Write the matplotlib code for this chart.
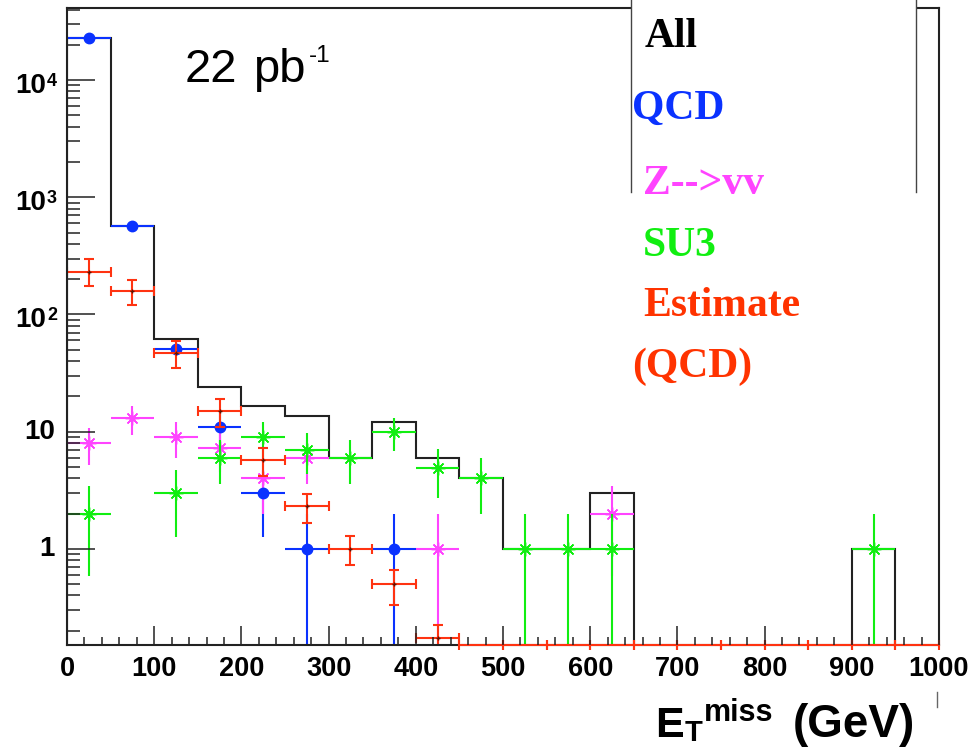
import numpy as np
import matplotlib
matplotlib.use("Agg")
import matplotlib.pyplot as plt
from matplotlib.ticker import LogLocator, MultipleLocator, NullFormatter
from matplotlib.lines import Line2D
from matplotlib.patches import Rectangle
from matplotlib.transforms import blended_transform_factory, ScaledTranslation

plt.rcParams['font.family'] = ['Liberation Sans', 'DejaVu Sans']

# ---------------- data ----------------
bin_edges = list(range(0, 1001, 50))
all_counts = [23000, 570, 62, 24, 16.4, 13.7, 6, 12.2, 6, 4,
              1, 1, 3, 0, 0, 0, 0, 0, 1, 0]

qcd_x = [25, 75, 125, 175, 225, 275, 375]
qcd_y = [23000, 570, 51, 11, 3, 1, 1]
qcd_err = [152, 24, 7.1, 3.3, 1.73, 1, 1]

zvv_x = [25, 75, 125, 175, 225, 275, 425, 625]
zvv_y = [8, 13, 9, 7.2, 4, 6, 1, 2]
zvv_err = [2.8, 3.6, 3, 2.7, 2, 2.45, 1, 1.41]

su3_x = [25, 125, 175, 225, 275, 325, 375, 425, 475, 525, 575, 625, 925]
su3_y = [2, 3, 6, 9, 7, 6, 10, 4.9, 4, 1, 1, 1, 1]
su3_err = [1.41, 1.73, 2.45, 3, 2.65, 2.45, 3.16, 2.2, 2, 1, 1, 1, 1]

est_x = [25, 75, 125, 175, 225, 275, 325, 375, 425]
est_y = [230, 160, 47, 15, 5.7, 2.3, 1.0, 0.5, 0.174]
est_err_up = [70, 38, 12, 4, 1.5, 0.65, 0.29, 0.16, 0.05]
est_err_dn = [56, 40, 12, 4, 1.55, 0.63, 0.27, 0.17, 0.174]
est_zero_x = [475, 525, 575, 625, 675, 725, 775, 825, 875, 925, 975]

x_ticks = [0, 100, 200, 300, 400, 500, 600, 700, 800, 900, 1000]
y_ticks = [1, 10, 100, 1000, 10000]
y_tick_base = ["1", "10", "10", "10", "10"]
y_tick_exp = ["", "", "2", "3", "4"]

# ---------------- style ----------------
C_ALL = '#222222'
C_QCD = '#0a32ff'
C_ZVV = '#ff44ff'
C_SU3 = '#11ee11'
C_EST = '#ff3311'
YMIN, YMAX = 0.1512, 41200
FLOOR = 1e-3
W, H = 979, 749

fig = plt.figure(figsize=(9.79, 7.49), dpi=100)
ax = fig.add_axes([67/W, 1-645/H, 872/W, 637/H])
ax.set_yscale('log')
ax.set_xlim(0, 1000)
ax.set_ylim(YMIN, YMAX)

# All histogram
vals = [v if v > 0 else FLOOR for v in all_counts]
ax.stairs(vals, bin_edges, baseline=FLOOR, color=C_ALL, lw=1.5, zorder=1.5)


def errpoints(x, y, dn, up, color, **kw):
    y = np.asarray(y, float)
    lo = np.maximum(y - np.asarray(dn, float), FLOOR)
    ax.errorbar(x, y, xerr=25, yerr=[y - lo, np.asarray(up, float)],
                color=color, ecolor=color, elinewidth=1.5, **kw)


errpoints(qcd_x, qcd_y, qcd_err, qcd_err, C_QCD, fmt='o', ms=7.5, zorder=2)
errpoints(zvv_x, zvv_y, zvv_err, zvv_err, C_ZVV, fmt='none', zorder=2.05)
ax.plot(zvv_x, zvv_y, ls='none', marker=(8, 2, 0), ms=10, mew=1.0, color=C_ZVV, zorder=2.05)
ax.plot(zvv_x, zvv_y, ls='none', marker='o', ms=3.5, color=C_ZVV, zorder=2.05)
errpoints(su3_x, su3_y, su3_err, su3_err, C_SU3, fmt='none', zorder=2.1)
ax.plot(su3_x, su3_y, ls='none', marker=(8, 2, 0), ms=10, mew=1.0, color=C_SU3, zorder=2.1)
ax.plot(su3_x, su3_y, ls='none', marker='o', ms=3.5, color=C_SU3, zorder=2.1)
errpoints(est_x, est_y, est_err_dn, est_err_up, C_EST, fmt='none', capsize=3.5,
          capthick=1.5, zorder=2.2)
ax.plot(est_x, est_y, ls='none', marker='+', ms=3, color='#661100', zorder=2.2)
ax.errorbar(est_zero_x, [YMIN]*len(est_zero_x), xerr=25, fmt='none', ecolor=C_EST,
            elinewidth=1.5, capsize=3.5, capthick=1.5, clip_on=False, zorder=2.4)

# axes styling
for s in ax.spines.values():
    s.set_linewidth(1.5)
    s.set_color('#222222')
    s.set_zorder(2.3)
ax.set_axisbelow(False)
ax.set_xticks(x_ticks)
ax.set_xticklabels([str(t) for t in x_ticks], fontsize=19.5, fontweight='bold')
ax.xaxis.set_minor_locator(MultipleLocator(20))
ax.set_yticks(y_ticks)
ax.set_yticklabels([""] * len(y_ticks))
ax.yaxis.set_minor_locator(LogLocator(base=10, subs=np.arange(2, 10)))
ax.yaxis.set_minor_formatter(NullFormatter())
ax.tick_params(axis='x', which='major', direction='in', length=13.7, width=1.1, pad=8,
               colors='#222222', labelcolor='black')
ax.tick_params(axis='x', which='minor', direction='in', length=5.8, width=1.1, colors='#222222')
ax.tick_params(axis='y', which='major', direction='in', length=20, width=1.1, pad=8,
               colors='#222222', labelcolor='black')
ax.tick_params(axis='y', which='minor', direction='in', length=9.4, width=1.1, colors='#222222')

# y tick labels (ROOT style 10^n)
ytrans = blended_transform_factory(fig.transFigure, ax.transData)
for val, base, exp in zip(y_ticks, y_tick_base, y_tick_exp):
    if exp == "":
        ax.text(55/W, val, base, transform=ytrans, ha='right', va='center',
                fontsize=20, fontweight='bold', color='black', clip_on=False)
    else:
        down = ytrans + ScaledTranslation(0, -6/100, fig.dpi_scale_trans)
        up = ytrans + ScaledTranslation(0, 7/100, fig.dpi_scale_trans)
        ax.text(46/W, val, base, transform=down, ha='right', va='center',
                fontsize=20, fontweight='bold', color='black', clip_on=False)
        ax.text(47/W, val, exp, transform=up, ha='left', va='top',
                fontsize=13, fontweight='bold', color='black', clip_on=False)

# luminosity text
fig.text(185/W, 1-82/H, "22", fontsize=34, va='baseline', color='black')
fig.text(253/W, 1-82/H, "pb", fontsize=34, va='baseline', color='black')
fig.text(309/W, 1-62/H, "-1", fontsize=17.5, va='baseline', color='black')

# x axis title: E_T^miss (GeV)
fig.text(655/W, 1-737/H, "E", fontsize=31, fontweight='bold', va='baseline', color='black')
fig.text(685/W, 1-741/H, "T", fontsize=21, fontweight='bold', va='baseline', color='black')
fig.text(704/W, 1-721/H, "miss", fontsize=22, fontweight='bold', va='baseline', color='black')
fig.text(915/W, 1-737/H, "(GeV)", fontsize=33, fontweight='bold', va='baseline', ha='right',
         color='black')

# legend-like box
fig.add_artist(Rectangle((631/W, 1-192/H), (916-631)/W, 192/H + 0.01,
                         transform=fig.transFigure, facecolor='white', edgecolor='none', zorder=5))
for xp in (631, 916):
    fig.add_artist(Line2D([xp/W, xp/W], [1-192/H, 1.0], transform=fig.transFigure,
                          color='#444444', lw=1.0, zorder=5.5))

serif = ['Liberation Serif', 'DejaVu Serif']
legend_items = [("All", 'black', 645, 47), ("QCD", C_QCD, 632, 119),
                ("Z-->vv", C_ZVV, 643, 194), ("SU3", C_SU3, 643, 256),
                ("Estimate", '#ff3300', 643, 316), ("(QCD)", '#ff3300', 632, 377)]
for txt, col, xp, yp in legend_items:
    fig.text(xp/W, 1-yp/H, txt, family=serif, fontweight='bold', fontsize=30,
             color=col, va='baseline', ha='left', zorder=6)

fig.add_artist(Line2D([937/W, 937/W], [1-707/H, 1-692/H], transform=fig.transFigure,
                      color='#666666', lw=1.0))

fig.savefig('out.png', dpi=100)
